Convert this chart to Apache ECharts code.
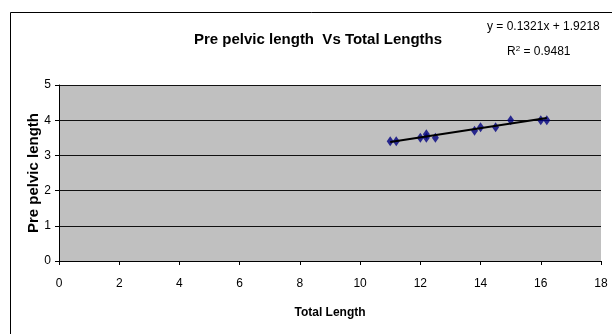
<!DOCTYPE html>
<html>
<head>
<meta charset="utf-8">
<script src="https://cdn.jsdelivr.net/npm/echarts@6/dist/echarts.min.js"></script>
<style>
  html, body { margin: 0; padding: 0; background: #fff; }
  #chart { width: 612px; height: 334px; }
</style>
</head>
<body>
<div id="chart"></div>
<script>
// values
var total_length = [11, 11.2, 12, 12.2, 12.2, 12.5, 13.8, 14, 14.5, 15, 16, 16.2];
var pre_pelvic   = [3.4, 3.4, 3.5, 3.5, 3.6, 3.5, 3.7, 3.8, 3.8, 4.0, 4.0, 4.0];
// linear trendline end points (as drawn)
var trend_x = [11, 16.2];
var trend_y = [3.38, 4.06];
var x_ticks = [0, 2, 4, 6, 8, 10, 12, 14, 16, 18];
var y_ticks = [0, 1, 2, 3, 4, 5];

var chart = document.getElementById('chart');
var myChart = echarts.init(chart);

var points = [];
for (var i = 0; i < total_length.length; i++) {
    points.push([total_length[i], pre_pelvic[i]]);
}
var trend = [];
for (var j = 0; j < trend_x.length; j++) {
    trend.push([trend_x[j], trend_y[j]]);
}

var font = 'Liberation Sans, Arial, sans-serif';

var option = {
    backgroundColor: '#ffffff',
    animation: false,
    textStyle: { fontFamily: font },
    title: [
        {
            text: 'Pre pelvic length  Vs Total Lengths',
            left: 189, top: 27,
            textStyle: { fontSize: 15, fontWeight: 'bold', color: '#000', fontFamily: font }
        },
        {
            text: 'y = 0.1321x + 1.9218',
            left: 482, top: 16,
            textStyle: { fontSize: 12, fontWeight: 'normal', color: '#000', fontFamily: font }
        },
        {
            text: 'R{sup|2} = 0.9481',
            left: 502, top: 40,
            textStyle: {
                fontSize: 12, fontWeight: 'normal', color: '#000', fontFamily: font,
                rich: { sup: { fontSize: 8, verticalAlign: 'top', padding: [0, 0, 6, 0], color: '#000' } }
            }
        }
    ],
    graphic: [
        {
            type: 'rect',
            shape: { x: 10.5, y: 12.5, width: 700, height: 400 },
            style: { fill: 'none', stroke: '#000', lineWidth: 1 },
            silent: true
        }
    ],
    grid: {
        left: 59, right: 11, top: 85, bottom: 73,
        show: true,
        backgroundColor: '#c0c0c0',
        borderWidth: 0
    },
    xAxis: {
        type: 'value',
        min: x_ticks[0], max: x_ticks[x_ticks.length - 1], interval: 2,
        name: 'Total Length',
        nameLocation: 'middle',
        nameGap: 46,
        nameMoveOverlap: false,
        nameTextStyle: { fontSize: 12, fontWeight: 'bold', color: '#000', fontFamily: font },
        axisLine: { show: true, lineStyle: { color: '#000', width: 1 } },
        axisTick: { show: true, inside: false, length: 4, lineStyle: { color: '#000' } },
        axisLabel: { fontSize: 12, color: '#000', margin: 17, fontFamily: font },
        splitLine: { show: false }
    },
    yAxis: {
        type: 'value',
        min: y_ticks[0], max: y_ticks[y_ticks.length - 1], interval: 1,
        name: 'Pre pelvic length',
        nameLocation: 'middle',
        nameRotate: 90,
        nameGap: 18,
        nameMoveOverlap: false,
        nameTextStyle: { fontSize: 15, fontWeight: 'bold', color: '#000', fontFamily: font },
        axisLine: { show: true, lineStyle: { color: '#000', width: 1 } },
        axisTick: { show: true, inside: false, length: 4, lineStyle: { color: '#000' } },
        axisLabel: { fontSize: 12, color: '#000', margin: 8, fontFamily: font },
        splitLine: { show: true, lineStyle: { color: '#111', width: 1 } }
    },
    series: [
        {
            name: 'Pre pelvic length',
            type: 'scatter',
            data: points,
            symbol: 'diamond',
            symbolSize: [7, 10],
            itemStyle: { color: '#000080' },
            z: 2
        },
        {
            name: 'Linear trend',
            type: 'line',
            data: trend,
            showSymbol: false,
            symbol: 'none',
            lineStyle: { color: '#000', width: 2 },
            z: 3
        }
    ]
};

myChart.setOption(option);
</script>
</body>
</html>
